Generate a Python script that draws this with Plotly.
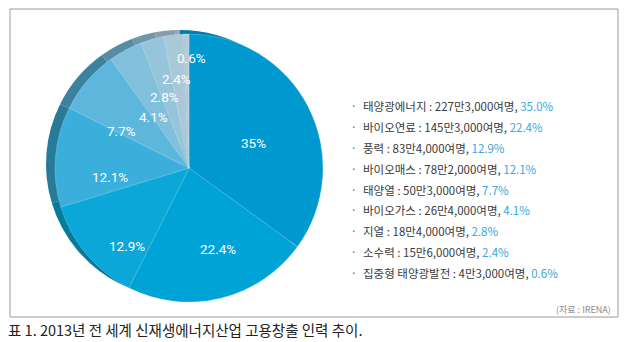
import plotly.graph_objects as go

W, H = 627, 342

categories = ["태양광에너지", "바이오연료", "풍력", "바이오매스", "태양열",
              "바이오가스", "지열", "소수력", "집중형 태양광발전"]
workers = ["227만3,000여명", "145만3,000여명", "83만4,000여명", "78만2,000여명",
           "50만3,000여명", "26만4,000여명", "18만4,000여명", "15만6,000여명",
           "4만3,000여명"]
shares = [35.0, 22.4, 12.9, 12.1, 7.7, 4.1, 2.8, 2.4, 0.6]
pie_labels = ["35%", "22.4%", "12.9%", "12.1%", "7.7%", "4.1%", "2.8%", "2.4%", "0.6%"]
legend_pct = ["35.0%", "22.4%", "12.9%", "12.1%", "7.7%", "4.1%", "2.8%", "2.4%", "0.6%"]

face_colors = ["#0099cf", "#00a3d5", "#0ba7d8", "#3aafdb", "#5db7dd",
               "#80c0dd", "#96c4da", "#a9c8d8", "#bac9d3"]
rim_colors = ["#007cab", "#0084b0", "#067b9c", "#287a99", "#3c819e",
              "#588ca4", "#6f95a8", "#879fab", "#99a8b0"]

def px_dom(cx, cy, r):
    return dict(x=[(cx - r) / W, (cx + r) / W], y=[(H - cy - r) / H, (H - cy + r) / H])

cx, cy, r = 189, 168, 134

fig = go.Figure()
# rim (3D thickness)
fig.add_trace(go.Pie(
    values=shares, labels=categories, sort=False, direction="clockwise", rotation=0,
    domain=px_dom(cx - 9, cy - 4, r), marker=dict(colors=rim_colors, line=dict(width=0)),
    textinfo="none", hoverinfo="skip", showlegend=False))
# face
fig.add_trace(go.Pie(
    values=shares, labels=categories, sort=False, direction="clockwise", rotation=0,
    domain=px_dom(cx, cy, r),
    marker=dict(colors=face_colors, line=dict(width=0.6, color="rgba(255,255,255,0.35)")),
    textinfo="none", showlegend=False))

shapes = [dict(type="rect", xref="paper", yref="paper",
               x0=10 / W, x1=618 / W, y0=(H - 317) / H, y1=(H - 9) / H,
               line=dict(color="#9a9a9a", width=1), fillcolor="rgba(0,0,0,0)", layer="below")]

ann = []
# slice value labels (placement as in the reference)
label_pos = [(253, 143), (218, 249), (127, 246), (110, 177), (121, 131),
             (153, 117), (164, 97), (176, 79), (191, 58)]
for (x, y), t in zip(label_pos, pie_labels):
    ann.append(dict(x=x / W, y=(H - y) / H, xref="paper", yref="paper", showarrow=False,
                    text=t, font=dict(color="white", size=13.5, family="Roboto"),
                    xanchor="center", yanchor="middle"))

# legend block
y0, dy = 106, 20.9
for k, (c, w_, p) in enumerate(zip(categories, workers, legend_pct)):
    y = y0 + k * dy
    ann.append(dict(x=350 / W, y=(H - y) / H, xref="paper", yref="paper", showarrow=False,
                    text="·", font=dict(color="#777", size=13), xanchor="left", yanchor="middle"))
    ann.append(dict(x=361 / W, y=(H - y) / H, xref="paper", yref="paper", showarrow=False,
                    text=f"{c} : {w_}, <span style='color:#3aa6dd'>{p}</span>",
                    font=dict(color="#3a3a3a", size=11.5, family="Noto Sans CJK KR"),
                    xanchor="left", yanchor="middle"))

ann.append(dict(x=613 / W, y=(H - 309) / H, xref="paper", yref="paper", showarrow=False,
                text="(자료 : IRENA)", font=dict(color="#8a8a8a", size=9, family="Noto Sans CJK KR"),
                xanchor="right", yanchor="middle"))
ann.append(dict(x=6 / W, y=(H - 329) / H, xref="paper", yref="paper", showarrow=False,
                text="표 1. 2013년 전 세계 신재생에너지산업 고용창출 인력 추이.",
                font=dict(color="#222", size=14.5, family="Noto Sans CJK KR"),
                xanchor="left", yanchor="middle"))

fig.update_layout(width=W, height=H, margin=dict(l=0, r=0, t=0, b=0),
                  paper_bgcolor="white", plot_bgcolor="white",
                  shapes=shapes, annotations=ann, showlegend=False)
fig.write_html("out.html")
